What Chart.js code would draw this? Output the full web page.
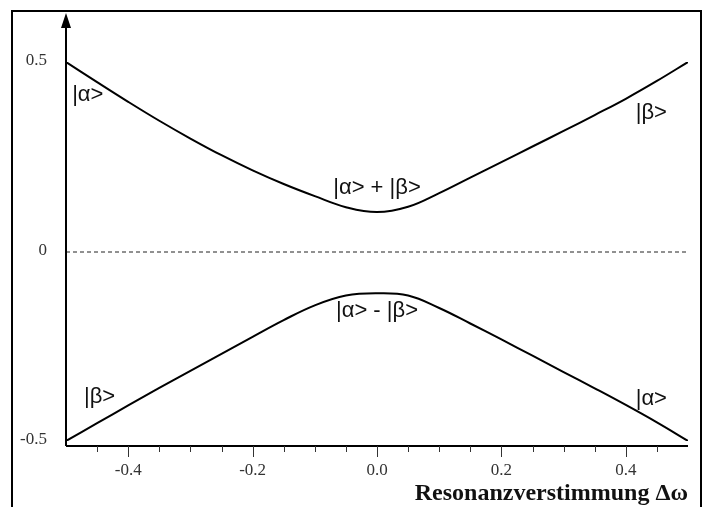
<!DOCTYPE html>
<html>
<head>
<meta charset="utf-8">
<script src="https://cdn.jsdelivr.net/npm/chart.js@4"></script>
<style>
  html, body { margin: 0; padding: 0; background: #fff; }
  canvas { display: block; }
</style>
</head>
<body>
<canvas id="myChart" width="708" height="507"></canvas>
<script>
// detuning values (x axis)
var detuning = [-0.5, -0.45, -0.4, -0.35, -0.3, -0.25, -0.2, -0.15, -0.1, -0.05, 0,
                0.05, 0.1, 0.15, 0.2, 0.25, 0.3, 0.35, 0.4, 0.45, 0.5];
// upper branch |a> + |b>
var upperBranch = [0.50, 0.447, 0.395, 0.345, 0.298, 0.254, 0.214, 0.178, 0.146, 0.117, 0.104,
                   0.118, 0.154, 0.195, 0.236, 0.277, 0.318, 0.360, 0.403, 0.450, 0.50];
// lower branch |a> - |b>
var lowerBranch = [-0.50, -0.453, -0.406, -0.360, -0.315, -0.270, -0.225, -0.181, -0.142, -0.116, -0.110,
                   -0.116, -0.149, -0.190, -0.232, -0.275, -0.318, -0.361, -0.405, -0.451, -0.50];
var xTickLabels = [-0.4, -0.2, 0.0, 0.2, 0.4];
var xMinorTicks = [-0.45, -0.35, -0.3, -0.25, -0.15, -0.1, -0.05, 0.05, 0.1, 0.15, 0.25, 0.3, 0.35, 0.45];
var yTickLabels = [0.5, 0, -0.5];
var stateLabels = [
    { text: '|α>', x: -0.465, y: 0.413 },
    { text: '|β>', x: 0.441, y: 0.365 },
    { text: '|α> + |β>', x: 0.0, y: 0.167 },
    { text: '|α> - |β>', x: 0.0, y: -0.156 },
    { text: '|β>', x: -0.446, y: -0.384 },
    { text: '|α>', x: 0.441, y: -0.389 }
];
var axisTitle = 'Resonanzverstimmung Δω';

function toPoints(ys) {
    return detuning.map(function (x, i) { return { x: x, y: ys[i] }; });
}

var decor = {
    id: 'decor',
    beforeDatasetsDraw: function (chart) {
        var c = chart.ctx, xs = chart.scales.x, ys = chart.scales.y;
        var left = xs.getPixelForValue(-0.5), right = xs.getPixelForValue(0.5);
        var y0 = ys.getPixelForValue(0);
        c.save();
        // dashed zero line
        c.strokeStyle = '#222';
        c.lineWidth = 1;
        c.setLineDash([4, 3]);
        c.beginPath();
        c.moveTo(left, y0 + 0.5);
        c.lineTo(right, y0 + 0.5);
        c.stroke();
        c.restore();
    },
    afterDraw: function (chart) {
        var c = chart.ctx, xs = chart.scales.x, ys = chart.scales.y;
        var left = xs.getPixelForValue(-0.5), right = xs.getPixelForValue(0.5);
        var axisY = ys.getPixelForValue(-0.5) + 5;
        c.save();
        // frame
        c.strokeStyle = '#000';
        c.lineWidth = 2;
        c.beginPath();
        c.moveTo(12, 507);
        c.lineTo(12, 11);
        c.lineTo(701, 11);
        c.lineTo(701, 507);
        c.stroke();
        // axes
        c.lineWidth = 2;
        c.beginPath();
        c.moveTo(left, axisY);
        c.lineTo(right, axisY);
        c.moveTo(left, axisY);
        c.lineTo(left, 22);
        c.stroke();
        c.fillStyle = '#000';
        c.beginPath();
        c.moveTo(left, 13);
        c.lineTo(left - 5, 28);
        c.lineTo(left + 5, 28);
        c.closePath();
        c.fill();
        // ticks
        c.strokeStyle = '#333';
        c.lineWidth = 1;
        c.beginPath();
        xMinorTicks.forEach(function (v) {
            var px = Math.round(xs.getPixelForValue(v)) + 0.5;
            c.moveTo(px, axisY);
            c.lineTo(px, axisY + 6);
        });
        xTickLabels.forEach(function (v) {
            var px = Math.round(xs.getPixelForValue(v)) + 0.5;
            c.moveTo(px, axisY);
            c.lineTo(px, axisY + 11);
        });
        c.stroke();
        // tick labels
        c.fillStyle = '#333';
        c.font = '17px "Liberation Serif", serif';
        c.textAlign = 'center';
        c.textBaseline = 'middle';
        xTickLabels.forEach(function (v) {
            c.fillText(v.toFixed(1), xs.getPixelForValue(v), 471);
        });
        c.textAlign = 'right';
        yTickLabels.forEach(function (v) {
            c.fillText(String(v), 47, ys.getPixelForValue(v) - 1);
        });
        // axis title
        c.fillStyle = '#111';
        c.font = 'bold 24px "Liberation Serif", serif';
        c.textAlign = 'right';
        c.textBaseline = 'alphabetic';
        c.fillText(axisTitle, right, 500);
        // state labels
        c.font = '22px "Liberation Sans", sans-serif';
        c.textAlign = 'center';
        c.textBaseline = 'middle';
        stateLabels.forEach(function (s) {
            c.fillText(s.text, xs.getPixelForValue(s.x), ys.getPixelForValue(s.y));
        });
        c.restore();
    }
};

var ctx = document.getElementById('myChart').getContext('2d');
var myChart = new Chart(ctx, {
    type: 'line',
    data: {
        datasets: [{
            label: '|α> + |β>',
            data: toPoints(upperBranch),
            borderColor: '#000',
            borderWidth: 2,
            pointRadius: 0,
            tension: 0.4,
            fill: false
        },
        {
            label: '|α> - |β>',
            data: toPoints(lowerBranch),
            borderColor: '#000',
            borderWidth: 2,
            pointRadius: 0,
            tension: 0.4,
            fill: false
        }]
    },
    options: {
        responsive: false,
        animation: false,
        layout: {
            padding: { left: 66, right: 20, top: 62, bottom: 66 }
        },
        plugins: {
            legend: { display: false },
            tooltip: { enabled: false }
        },
        scales: {
            x: { type: 'linear', min: -0.5, max: 0.5, display: false },
            y: { type: 'linear', min: -0.5, max: 0.5, display: false }
        }
    },
    plugins: [decor]
});
</script>
</body>
</html>
